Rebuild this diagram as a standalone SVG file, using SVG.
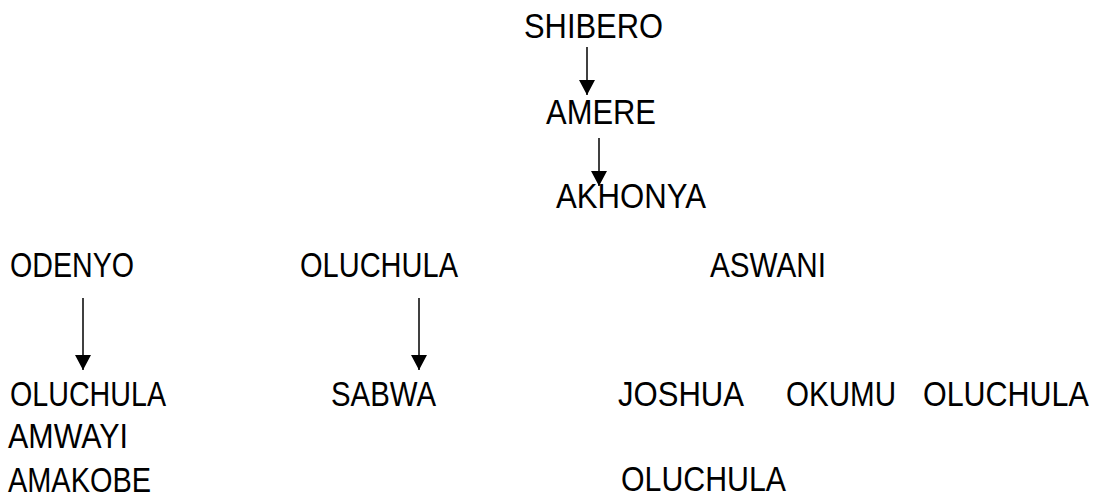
<svg xmlns="http://www.w3.org/2000/svg" width="1106" height="497" viewBox="0 0 1106 497">
<style>
text{font-family:"Liberation Sans",Arial,sans-serif;font-size:35px;fill:#000}
.c line{stroke:#000;stroke-width:1.5}
</style>
<defs>
<marker id="ah" markerUnits="userSpaceOnUse" markerWidth="16" markerHeight="16" refX="15" refY="8" orient="auto" viewBox="0 0 16 16">
<path d="M0,0 L15,8 L0,16 Z" fill="#000"/>
</marker>
</defs>
<rect width="1106" height="497" fill="#fff"/>
<g id="n-shibero"><text x="524" y="38" textLength="139" lengthAdjust="spacingAndGlyphs">SHIBERO</text></g>
<g id="n-amere"><text x="546" y="124" textLength="110" lengthAdjust="spacingAndGlyphs">AMERE</text></g>
<g id="n-akhonya"><text x="556" y="208" textLength="150" lengthAdjust="spacingAndGlyphs">AKHONYA</text></g>
<g id="n-odenyo"><text x="10" y="277" textLength="124" lengthAdjust="spacingAndGlyphs">ODENYO</text></g>
<g id="n-oluchula1"><text x="300" y="277" textLength="158" lengthAdjust="spacingAndGlyphs">OLUCHULA</text></g>
<g id="n-aswani"><text x="710" y="277" textLength="116" lengthAdjust="spacingAndGlyphs">ASWANI</text></g>
<g id="n-left-children">
<text x="10" y="406" textLength="156" lengthAdjust="spacingAndGlyphs">OLUCHULA</text>
<text x="8" y="448" textLength="120" lengthAdjust="spacingAndGlyphs">AMWAYI</text>
<text x="8" y="492" textLength="143" lengthAdjust="spacingAndGlyphs">AMAKOBE</text>
</g>
<g id="n-sabwa"><text x="331" y="406" textLength="105" lengthAdjust="spacingAndGlyphs">SABWA</text></g>
<g id="n-aswani-children">
<text x="618" y="406" textLength="126" lengthAdjust="spacingAndGlyphs">JOSHUA</text>
<text x="786" y="406" textLength="110" lengthAdjust="spacingAndGlyphs">OKUMU</text>
<text transform="translate(923,406) scale(0.87,1)" x="0" y="0">OLUCHULA</text>
<text x="621" y="491" textLength="165" lengthAdjust="spacingAndGlyphs">OLUCHULA</text>
</g>
<g id="connectors" class="c">
<line x1="587" y1="47" x2="587" y2="95" marker-end="url(#ah)"/>
<line x1="599" y1="138" x2="599" y2="186" marker-end="url(#ah)"/>
<line x1="83" y1="298" x2="83" y2="370" marker-end="url(#ah)"/>
<line x1="419" y1="298" x2="419" y2="370" marker-end="url(#ah)"/>
</g>
</svg>
